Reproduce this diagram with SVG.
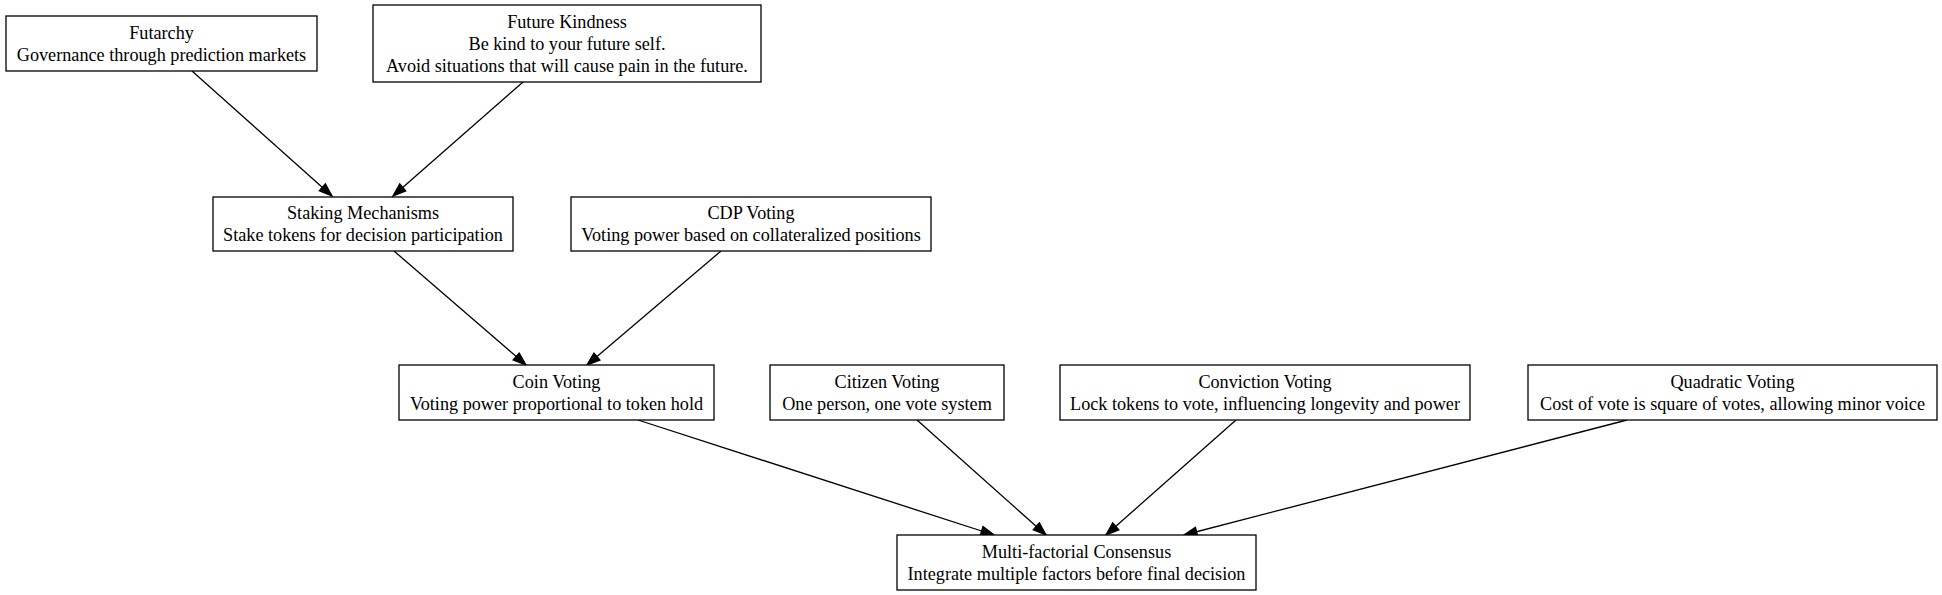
<svg xmlns="http://www.w3.org/2000/svg" width="1942" height="595" viewBox="0 0 1942 595">
<style>
.box{fill:#fff;stroke:#000;stroke-width:1.3}
.t{font-family:"Liberation Serif","Times New Roman",serif;font-size:18.2px;text-anchor:middle;fill:#000}
.e{stroke:#000;stroke-width:1.3;fill:none;marker-end:url(#ah)}
</style>
<defs>
<marker id="ah" markerUnits="userSpaceOnUse" markerWidth="16" markerHeight="12" refX="13" refY="4.6" orient="auto" overflow="visible">
<path d="M0,0 L13,4.6 L0,9.2 Z" fill="#000" stroke="#000" stroke-width="1.3"/>
</marker>
</defs>
<rect width="1942" height="595" fill="#fff"/>
<g id="connectors">
<line class="e" x1="192" y1="71" x2="332" y2="196"/>
<line class="e" x1="523" y1="82" x2="393" y2="196"/>
<line class="e" x1="394" y1="251" x2="526" y2="365"/>
<line class="e" x1="721" y1="251" x2="587" y2="365"/>
<line class="e" x1="638" y1="420" x2="994" y2="535"/>
<line class="e" x1="917" y1="420" x2="1046" y2="535"/>
<line class="e" x1="1236" y1="420" x2="1106" y2="535"/>
<line class="e" x1="1627" y1="420" x2="1184" y2="535"/>
</g>
<g id="futarchy">
<rect class="box" x="6" y="16" width="311" height="55"/>
<text class="t" x="161.5" y="38.5">Futarchy</text>
<text class="t" x="161.5" y="60.5">Governance through prediction markets</text>
</g>
<g id="future_kindness">
<rect class="box" x="373" y="5" width="388" height="77"/>
<text class="t" x="567" y="27.5">Future Kindness</text>
<text class="t" x="567" y="49.5">Be kind to your future self.</text>
<text class="t" x="567" y="71.5">Avoid situations that will cause pain in the future.</text>
</g>
<g id="staking">
<rect class="box" x="213" y="197" width="300" height="54"/>
<text class="t" x="363" y="219">Staking Mechanisms</text>
<text class="t" x="363" y="241">Stake tokens for decision participation</text>
</g>
<g id="cdp">
<rect class="box" x="571" y="197" width="360" height="54"/>
<text class="t" x="751" y="219">CDP Voting</text>
<text class="t" x="751" y="241">Voting power based on collateralized positions</text>
</g>
<g id="coin">
<rect class="box" x="399" y="365" width="315" height="55"/>
<text class="t" x="556.5" y="387.5">Coin Voting</text>
<text class="t" x="556.5" y="409.5">Voting power proportional to token hold</text>
</g>
<g id="citizen">
<rect class="box" x="770" y="365" width="234" height="55"/>
<text class="t" x="887" y="387.5">Citizen Voting</text>
<text class="t" x="887" y="409.5">One person, one vote system</text>
</g>
<g id="conviction">
<rect class="box" x="1060" y="365" width="410" height="55"/>
<text class="t" x="1265" y="387.5">Conviction Voting</text>
<text class="t" x="1265" y="409.5">Lock tokens to vote, influencing longevity and power</text>
</g>
<g id="quadratic">
<rect class="box" x="1528" y="365" width="409" height="55"/>
<text class="t" x="1732.5" y="387.5">Quadratic Voting</text>
<text class="t" x="1732.5" y="409.5">Cost of vote is square of votes, allowing minor voice</text>
</g>
<g id="multi">
<rect class="box" x="897" y="535" width="359" height="55"/>
<text class="t" x="1076.5" y="557.5">Multi-factorial Consensus</text>
<text class="t" x="1076.5" y="579.5">Integrate multiple factors before final decision</text>
</g>
</svg>
